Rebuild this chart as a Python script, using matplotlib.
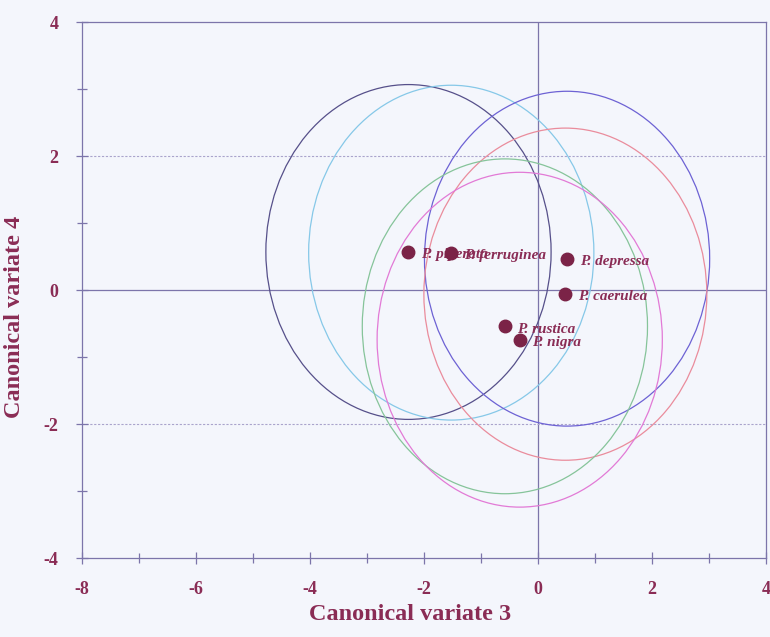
import matplotlib
matplotlib.use("Agg")
import matplotlib.pyplot as plt
from matplotlib.patches import Ellipse
from matplotlib.ticker import MultipleLocator

# Group centroids on canonical variates 3 and 4
species = ["P. piperata", "P. ferruginea", "P. depressa", "P. caerulea", "P. rustica", "P. nigra"]
cv3 = [-2.27, -1.52, 0.51, 0.48, -0.58, -0.32]
cv4 = [0.57, 0.56, 0.47, -0.06, -0.54, -0.74]
# radius of the confidence circle around each centroid
circle_radius = [2.5, 2.5, 2.5, 2.48, 2.5, 2.5]
circle_colors = ["#56508a", "#86c8e8", "#6d62d4", "#ea8c9c", "#86c49a", "#e27ad6"]

x_ticks = [-8, -6, -4, -2, 0, 2, 4]
y_ticks = [-4, -2, 0, 2, 4]

maroon = "#8a2c55"
axis_col = "#7c75aa"
bg = "#f4f6fc"

plt.rcParams["font.family"] = ["Liberation Serif", "DejaVu Serif"]

fig = plt.figure(figsize=(7.7, 6.37), dpi=100, facecolor=bg)
ax = fig.add_axes([0.106, 0.124, 0.889, 0.841], facecolor=bg)

ax.set_xlim(-8, 4)
ax.set_ylim(-4, 4)

# reference lines
ax.axhline(0, color=axis_col, lw=0.9, zorder=1)
ax.axvline(0, color=axis_col, lw=0.9, zorder=1)
for yv in (2, -2):
    ax.axhline(yv, color="#aaa4cc", lw=0.8, ls=(0, (2, 1.5)), zorder=1)

# confidence circles
for x, y, r, c in zip(cv3, cv4, circle_radius, circle_colors):
    ax.add_patch(Ellipse((x, y), 2 * r, 2 * r, fill=False, edgecolor=c, lw=0.9, zorder=2))

# centroids with italic labels
for x, y, name in zip(cv3, cv4, species):
    ax.plot([x], [y], marker="o", ms=9, color="#7b2347", mec="#7b2347", zorder=3, ls="none")
    ax.annotate(name, (x, y), xytext=(9, -2), textcoords="offset points",
                fontsize=11, fontstyle="italic", fontweight="bold", color=maroon,
                va="center", ha="left", zorder=3)

for s in ax.spines.values():
    s.set_color(axis_col)
    s.set_linewidth(0.9)

ax.set_xticks(x_ticks)
ax.set_yticks(y_ticks)
ax.xaxis.set_minor_locator(MultipleLocator(1))
ax.yaxis.set_minor_locator(MultipleLocator(1))
ax.tick_params(which="both", direction="inout", color=axis_col, width=0.9)
ax.tick_params(which="major", length=9)
ax.tick_params(which="minor", length=7)
ax.tick_params(axis="x", which="major", pad=12)
ax.tick_params(axis="y", which="major", pad=12)
ax.set_xticklabels([str(v) for v in x_ticks], fontsize=13, fontweight="bold", color=maroon)
ax.set_yticklabels([str(v) for v in y_ticks], fontsize=13, fontweight="bold", color=maroon)

ax.set_xlabel("Canonical variate 3", fontsize=17.5, fontweight="bold", color=maroon)
ax.set_ylabel("Canonical variate 4", fontsize=17.5, fontweight="bold", color=maroon)
ax.xaxis.set_label_coords(0.48, -0.085)
ax.yaxis.set_label_coords(-0.083, 0.45)

fig.savefig("out.png", dpi=100, facecolor=bg)
